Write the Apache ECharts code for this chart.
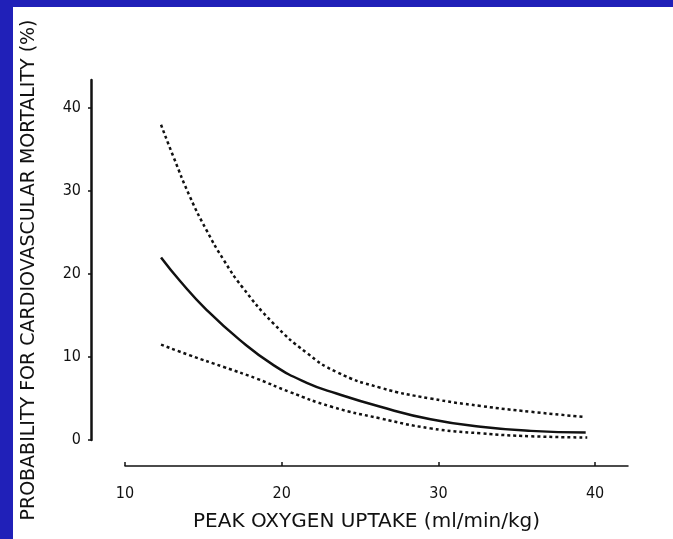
<!DOCTYPE html>
<html>
<head>
<meta charset="utf-8">
<script src="https://cdn.jsdelivr.net/npm/echarts@6/dist/echarts.min.js"></script>
<style>
  html, body { margin: 0; padding: 0; background: #2020b8; }
  #chart { position: absolute; left: 13px; top: 7px; width: 660px; height: 532px; background: #ffffff; }
</style>
</head>
<body>
<div id="chart"></div>
<script>
// values: [peak VO2, probability %]
const meanCurve = [[12.3, 22.0], [13.5, 19.2], [15.2, 15.7], [17.3, 12.1], [19.5, 9.0], [21.6, 6.9],
    [23.5, 5.6], [26.3, 4.0], [29.5, 2.5], [32.7, 1.6], [35.9, 1.1], [39.4, 0.9]];
const upperBound = [[12.3, 38.0], [13.1, 34.1], [14.15, 29.3], [15.2, 25.3], [16.3, 21.7], [17.5, 18.4],
    [19.5, 14.0], [21.6, 10.5], [23.5, 8.2], [26.3, 6.3], [29.5, 5.0], [32.7, 4.1], [35.9, 3.4], [39.2, 2.8]];
const lowerBound = [[12.3, 11.5], [14.15, 10.2], [16.3, 8.8], [18.4, 7.4], [20.5, 5.8], [23.2, 4.0],
    [26.3, 2.6], [29.5, 1.4], [32.7, 0.8], [35.9, 0.45], [39.5, 0.3]];
const xTicks = [10, 20, 30, 40];
const yTicks = [0, 10, 20, 30, 40];

const font = "'DejaVu Sans', sans-serif";
const labelFont = "'DejaVu Sans Condensed', 'DejaVu Sans', sans-serif";
const ink = '#111111';

let myChart = echarts.init(document.getElementById('chart'));
let option = {
    animation: false,
    grid: { left: 112, right: 45, top: 73, bottom: 99, outerBoundsMode: 'none' },
    xAxis: {
        type: 'value',
        min: 10,
        max: 42.1,
        interval: 10,
        offset: 26,
        name: 'PEAK OXYGEN UPTAKE (ml/min/kg)',
        nameLocation: 'middle',
        nameGap: 46,
        nameTextStyle: { fontFamily: font, fontSize: 20, color: ink, padding: [0, 20, 0, 0] },
        splitLine: { show: false },
        axisLine: { onZero: false, lineStyle: { color: ink, width: 1.5 } },
        axisTick: { inside: true, length: 4, customValues: xTicks, lineStyle: { color: ink, width: 1.5 } },
        axisLabel: { customValues: xTicks, margin: 20, fontFamily: labelFont, fontSize: 16, color: ink }
    },
    yAxis: {
        type: 'value',
        min: 0,
        max: 43.4,
        interval: 10,
        offset: 34,
        name: 'PROBABILITY FOR CARDIOVASCULAR MORTALITY (%)',
        nameLocation: 'middle',
        nameGap: 52,
        nameTextStyle: { fontFamily: font, fontSize: 19, color: ink, padding: [0, 20, 0, 0] },
        splitLine: { show: false },
        axisLine: { onZero: false, lineStyle: { color: ink, width: 2.5 } },
        axisTick: { length: 3, customValues: yTicks, lineStyle: { color: ink, width: 1.5 } },
        axisLabel: { customValues: yTicks, margin: 10, fontFamily: labelFont, fontSize: 16, color: ink }
    },
    series: [
        {
            name: 'upper',
            type: 'line',
            data: upperBound,
            smooth: true,
            symbol: 'none',
            lineStyle: { color: ink, width: 2.5, type: [3, 3] }
        },
        {
            name: 'mean',
            type: 'line',
            data: meanCurve,
            smooth: true,
            symbol: 'none',
            lineStyle: { color: ink, width: 2.5 }
        },
        {
            name: 'lower',
            type: 'line',
            data: lowerBound,
            smooth: true,
            symbol: 'none',
            lineStyle: { color: ink, width: 2.5, type: [3, 3] }
        }
    ]
};

option && myChart.setOption(option);
</script>
</body>
</html>
